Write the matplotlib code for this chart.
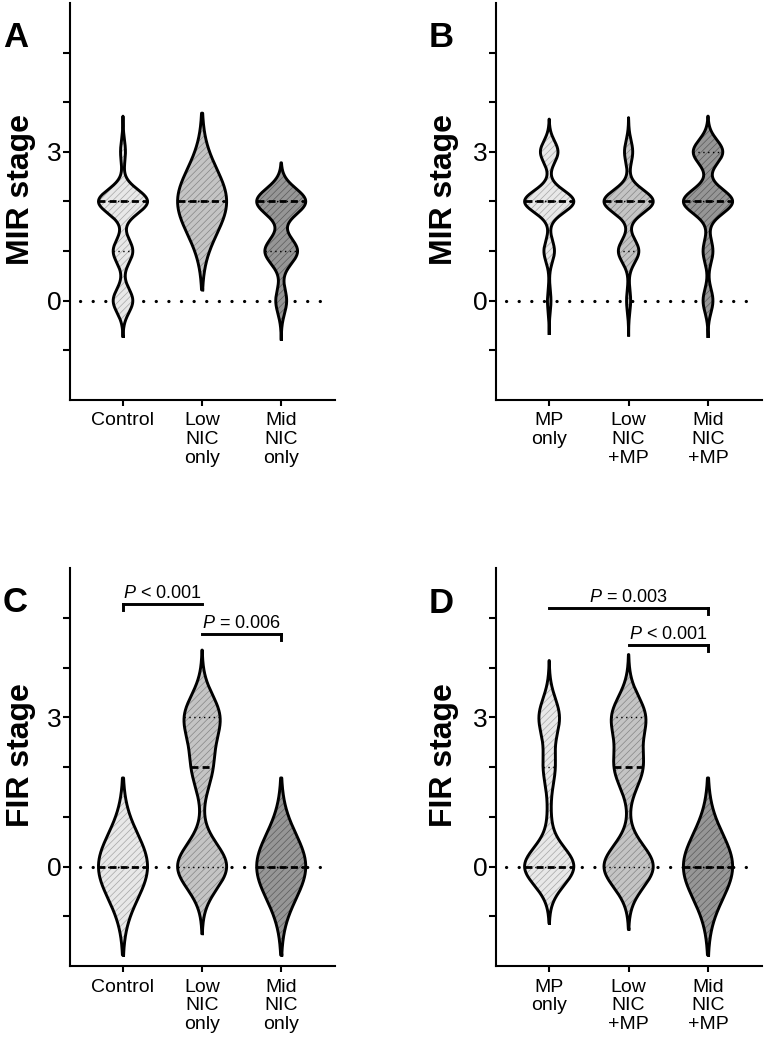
import numpy as np
import matplotlib
matplotlib.use("Agg")
import matplotlib.pyplot as plt

plt.rcParams['font.family'] = ['Liberation Sans', 'DejaVu Sans']
plt.rcParams['mathtext.fontset'] = 'custom'
plt.rcParams['mathtext.rm'] = 'Liberation Sans'
plt.rcParams['mathtext.it'] = 'Liberation Sans:italic'
plt.rcParams['hatch.linewidth'] = 0.5

# stage values and number of animals at each stage
stages = [0, 1, 2, 3]
labels_left = ["Control", "Low\nNIC\nonly", "Mid\nNIC\nonly"]
labels_right = ["MP\nonly", "Low\nNIC\n+MP", "Mid\nNIC\n+MP"]

mir_left = [[4, 4, 10, 1], [0, 0, 12, 0], [2, 6, 9, 0]]
mir_right = [[1, 3, 14, 5], [1, 5, 12, 2], [2, 2, 10, 6]]
fir_left = [[12, 0, 0, 0], [10, 0, 4, 7], [12, 0, 0, 0]]
fir_right = [[17, 1, 4, 7], [9, 0, 5, 6], [12, 0, 0, 0]]

# kernel bandwidth of each violin, and how far the tails reach past the data
bw_mir_left = [0.24, 0.65, 0.26]
bw_mir_right = [0.22, 0.23, 0.24]
bw_fir_left = [0.65, 0.45, 0.65]
bw_fir_right = [0.38, 0.42, 0.65]
tail_len = 1.78

# significance brackets: (from group, to group, height, text, end with tick)
sig_fir_left = [(0, 1, 5.28, "$\\mathit{P}$ < 0.001", 0),
                (1, 2, 4.68, "$\\mathit{P}$ = 0.006", 2)]
sig_fir_right = [(0, 2, 5.2, "$\\mathit{P}$ = 0.003", 2),
                 (1, 2, 4.46, "$\\mathit{P}$ < 0.001", 2)]

fills = ["#e8e8e8", "#c4c4c4", "#969696"]
hatch_cols = ["#a6a6a6", "#858585", "#5a5a5a"]


def violin(ax, pos, counts, bw, fill, hcol):
    vals = np.repeat(stages, counts)
    ext = min(3 * bw, tail_len)
    y = np.linspace(vals.min() - ext, vals.max() + ext, 500)
    dens = sum(c * np.exp(-(y - s) ** 2 / (2 * bw ** 2)) for s, c in zip(stages, counts))
    w = 0.31 * dens / dens.max()
    ax.fill_betweenx(y, pos - w, pos + w, facecolor=fill, edgecolor=hcol,
                     hatch='/////', linewidth=0, zorder=2)
    ax.plot(np.r_[pos + w, (pos - w)[::-1], pos + w[0]], np.r_[y, y[::-1], y[0]],
            color='k', lw=2.1, zorder=3, solid_joinstyle='round')
    q1, med, q3 = np.percentile(vals, [25, 50, 75])
    for q in (q1, q3):
        hw = np.interp(q, y, w)
        ax.plot([pos - hw, pos + hw], [q, q], color='k', lw=1.0,
                ls=(0, (1, 2.5)), zorder=4)
    hw = np.interp(med, y, w)
    ax.plot([pos - hw, pos + hw], [med, med], color='k', lw=2,
            ls=(0, (2.5, 1.5)), zorder=4)


def panel(rect, counts, bws, labels, ylabel, letter, lab_xy, let_xy, sig=()):
    ax = fig.add_axes(rect)
    ax.set_xlim(-0.67, 2.68)
    ax.set_ylim(-2, 6)
    ax.axhline(0, xmin=0.036, xmax=0.976, color='k', lw=2.3,
               ls=(0, (0.05, 3.9)), dash_capstyle='round', zorder=1)
    for i in range(3):
        violin(ax, i, counts[i], bws[i], fills[i], hatch_cols[i])
    for x0, x1, yb, txt, tk in sig:
        ax.plot([x0, x1], [yb, yb], color='k', lw=2.1, solid_capstyle='projecting')
        ax.plot([tk, tk], [yb, yb - 0.13], color='k', lw=2.1)
        ax.text((x0 + x1) / 2, yb + 0.12, txt, ha='center', va='baseline', fontsize=13)
    for s in ['top', 'right']:
        ax.spines[s].set_visible(False)
    for s in ['left', 'bottom']:
        ax.spines[s].set_linewidth(1.5)
    ax.set_yticks(range(-1, 6))
    ax.set_yticklabels(['' if t not in (0, 3) else str(t) for t in range(-1, 6)])
    ax.set_xticks(range(3))
    ax.set_xticklabels(labels, fontsize=14, linespacing=1.15)
    ax.tick_params(axis='y', labelsize=19, length=5, width=1.5, pad=1)
    ax.tick_params(axis='x', length=4, width=1.5, pad=5)
    fig.text(lab_xy[0], lab_xy[1], ylabel, rotation=90, ha='center', va='center',
             fontsize=23, fontweight='bold')
    fig.text(let_xy[0], let_xy[1], letter, ha='center', va='baseline',
             fontsize=25, fontweight='bold')
    return ax


fig = plt.figure(figsize=(7.64, 10.46), dpi=100)
W, H = 764, 1046
top_b, top_h = 1 - 400 / H, 397 / H
bot_b, bot_h = 1 - 966 / H, 398 / H
panel([70 / W, top_b, 265 / W, top_h], mir_left, bw_mir_left, labels_left,
      "MIR stage", "A", (21 / W, 1 - 190 / H), (15.5 / W, 1 - 47 / H))
panel([496 / W, top_b, 266 / W, top_h], mir_right, bw_mir_right, labels_right,
      "MIR stage", "B", (444 / W, 1 - 190 / H), (441.5 / W, 1 - 47 / H))
panel([70 / W, bot_b, 265 / W, bot_h], fir_left, bw_fir_left, labels_left,
      "FIR stage", "C", (21 / W, 1 - 755 / H), (15.5 / W, 1 - 612 / H), sig_fir_left)
panel([496 / W, bot_b, 266 / W, bot_h], fir_right, bw_fir_right, labels_right,
      "FIR stage", "D", (444 / W, 1 - 755 / H), (441.5 / W, 1 - 613 / H), sig_fir_right)

fig.savefig("out.png", dpi=100)
